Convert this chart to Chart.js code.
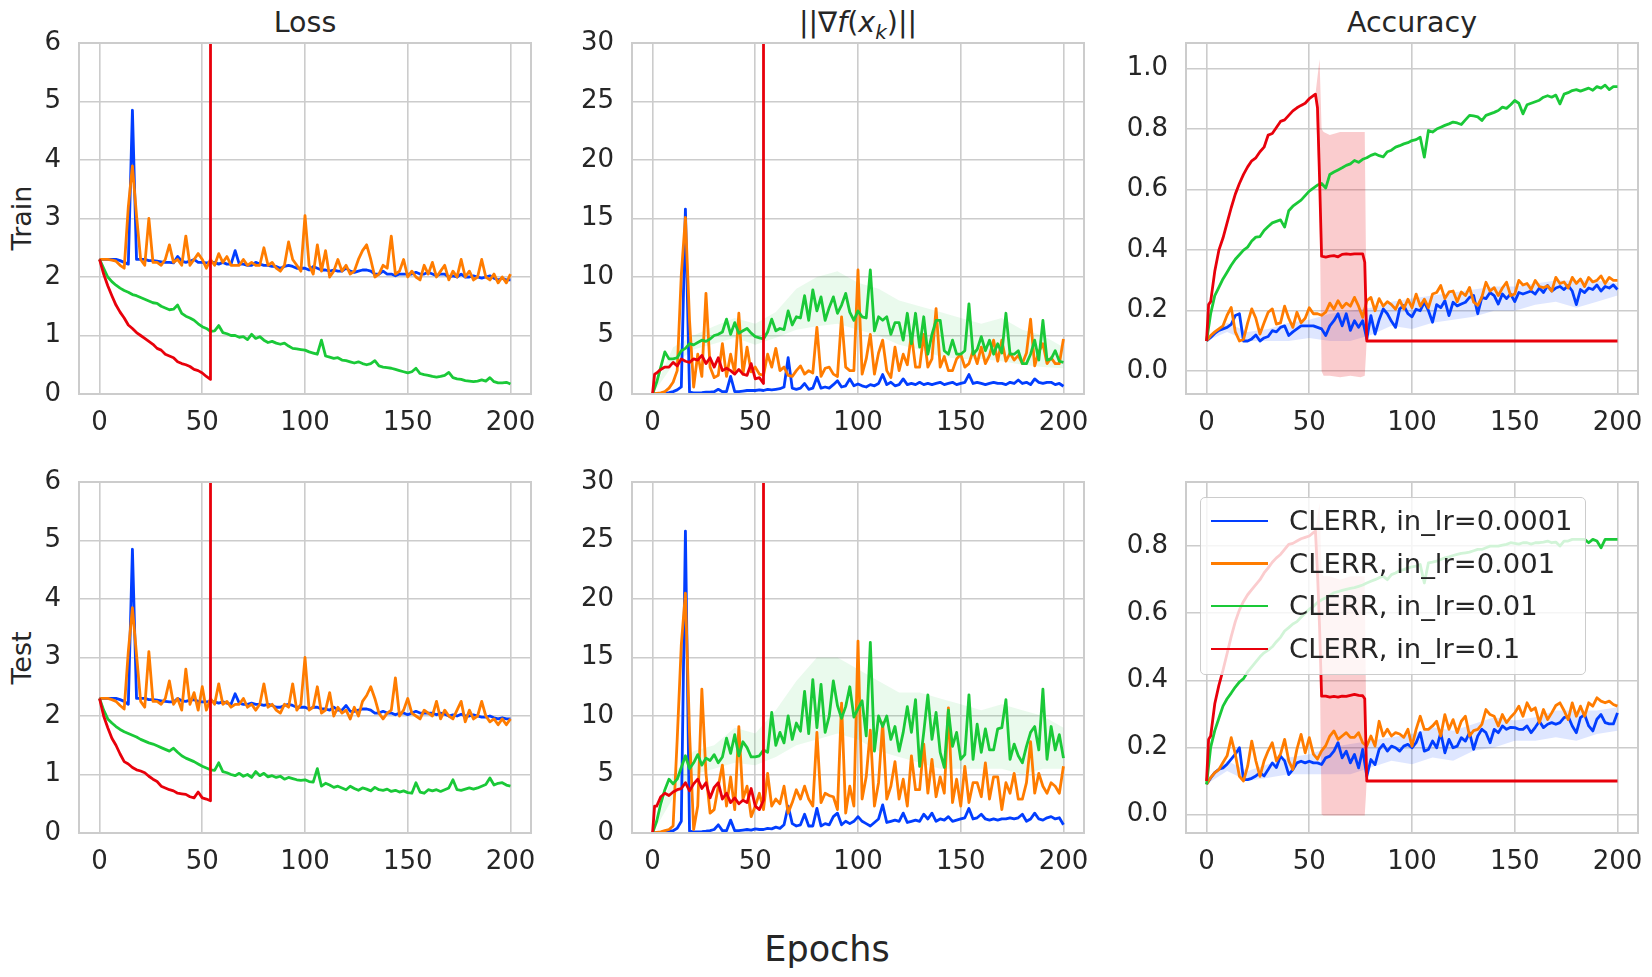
<!DOCTYPE html>
<html>
<head>
<meta charset="utf-8">
<script src="https://cdn.jsdelivr.net/npm/chart.js@4.4.0/dist/chart.umd.min.js"></script>
<style>
  body { margin: 0; background: #fff; width: 1652px; height: 977px; position: relative; overflow: hidden;
         font-family: "DejaVu Sans", sans-serif; color: #262626; }
  canvas.panel { position: absolute; }
  .txt { position: absolute; line-height: 1; white-space: nowrap; }
  .title { font-size: 28.5px; transform: translateX(-50%); }
  .rowlabel { font-size: 27px; transform: translate(-50%, -50%) rotate(-90deg); }
  #legend { position: absolute; left: 1200px; top: 497px; width: 384px; height: 176px;
            background: rgba(255,255,255,0.8); border: 1px solid #cccccc; border-radius: 5px; }
  #legend .handle { position: absolute; left: 10px; width: 57px; height: 2.8px; }
  #legend .label { position: absolute; left: 88px; font-size: 27.4px; line-height: 1; white-space: nowrap; }
</style>
</head>
<body>
<div class="txt title" id="t0" style="top:9px">Loss</div>
<div class="txt title" id="t1" style="top:9px">||∇<i>f</i>(<i>x</i><sub style="font-size:0.7em"><i>k</i></sub>)||</div>
<div class="txt title" id="t2" style="top:9px">Accuracy</div>
<div class="txt rowlabel" style="left:21px; top:218px">Train</div>
<div class="txt rowlabel" style="left:21px; top:658px">Test</div>
<div class="txt" style="left:827px; top:932px; font-size:35px; transform:translateX(-50%)">Epochs</div>

<script>
// colours (seaborn "bright")
const BLUE = '#023eff', ORANGE = '#ff7c00', GREEN = '#1ac938', RED = '#e8000b';

// ---- x values ----
const epochs = [
  0, 2, 4, 6, 8, 10, 12, 14, 16, 18, 20, 22, 24, 26, 28, 30, 32, 34, 36, 38,
  40, 42, 44, 46, 48, 50, 52, 54, 56, 58, 60, 62, 64, 66, 68, 70, 72, 74, 76, 78,
  80, 82, 84, 86, 88, 90, 92, 94, 96, 98, 100, 102, 104, 106, 108, 110, 112, 114, 116, 118,
  120, 122, 124, 126, 128, 130, 132, 134, 136, 138, 140, 142, 144, 146, 148, 150, 152, 154, 156, 158,
  160, 162, 164, 166, 168, 170, 172, 174, 176, 178, 180, 182, 184, 186, 188, 190, 192, 194, 196, 198, 200
];
const redLossEpochs = [0, 2, 4, 6, 8, 10, 12, 14, 16, 18, 20, 22, 24, 26, 28, 30, 32, 34, 36, 38,
  40, 42, 44, 46, 48, 50, 52, 54, 55];
const redGradEpochs = [0, 1, 2, 4, 6, 8, 10, 12, 14, 16, 18, 20, 22, 24, 26, 28, 30, 32, 34, 36, 38,
  40, 42, 44, 46, 48, 50, 52, 54, 55];
const redAccEpochs = [0, 1, 2, 4, 6, 8, 10, 12, 14, 16, 18, 20, 22, 24, 26, 28, 30, 32, 34, 36, 38,
  40, 42, 44, 46, 48, 50, 52, 53, 54, 55, 56, 58, 60, 62, 64, 66, 68, 70, 72, 74, 76, 77, 78, 200];
const redBandEpochs = [53, 55, 56, 57, 60, 65, 70, 75, 77, 78];
const bandEpochs = [0, 10, 20, 30, 40, 50, 60, 70, 80, 90, 100, 110, 120, 130, 140, 150, 160, 170, 180, 190, 200];

// ---- Train loss ----
const trainLossBlue = [
  2.30, 2.30, 2.30, 2.30, 2.30, 2.28, 2.25, 2.22, 4.85, 2.30,
  2.30, 2.30, 2.28, 2.28, 2.27, 2.26, 2.25, 2.25, 2.24, 2.35,
  2.27, 2.25, 2.27, 2.30, 2.25, 2.25, 2.24, 2.25, 2.25, 2.22,
  2.25, 2.22, 2.22, 2.45, 2.22, 2.22, 2.20, 2.20, 2.25, 2.22,
  2.20, 2.20, 2.18, 2.18, 2.15, 2.18, 2.20, 2.18, 2.15, 2.15,
  2.15, 2.12, 2.18, 2.15, 2.12, 2.12, 2.10, 2.12, 2.10, 2.10,
  2.15, 2.10, 2.08, 2.10, 2.12, 2.12, 2.10, 2.05, 2.05, 2.10,
  2.05, 2.05, 2.02, 2.05, 2.05, 2.05, 2.05, 2.08, 2.05, 2.05,
  2.08, 2.05, 2.02, 2.05, 2.05, 2.00, 2.02, 2.00, 2.05, 2.00,
  2.00, 2.02, 2.00, 1.98, 2.00, 2.02, 1.98, 1.95, 1.98, 1.95,
  1.95
];
const trainLossOrange = [
  2.30, 2.30, 2.30, 2.29, 2.27, 2.20, 2.15, 3.20, 3.90, 3.05,
  2.30, 2.20, 3.00, 2.25, 2.25, 2.20, 2.30, 2.55, 2.25, 2.30,
  2.20, 2.70, 2.20, 2.30, 2.40, 2.30, 2.15, 2.30, 2.20, 2.40,
  2.25, 2.35, 2.20, 2.20, 2.20, 2.30, 2.20, 2.25, 2.20, 2.20,
  2.50, 2.20, 2.25, 2.15, 2.10, 2.20, 2.60, 2.30, 2.20, 2.10,
  3.05, 2.20, 2.05, 2.55, 2.10, 2.45, 2.00, 2.10, 2.30, 2.10,
  2.20, 2.05, 2.10, 2.30, 2.45, 2.55, 2.30, 2.00, 2.05, 2.20,
  2.15, 2.70, 2.05, 2.10, 2.30, 2.00, 2.10, 2.00, 1.95, 2.20,
  2.05, 2.25, 2.00, 2.10, 2.20, 1.95, 2.10, 2.00, 2.30, 2.00,
  2.10, 1.95, 2.00, 2.30, 2.00, 1.95, 2.05, 1.90, 2.00, 1.90,
  2.05
];
const trainLossGreen = [
  2.30, 2.15, 2.00, 1.92, 1.86, 1.81, 1.77, 1.74, 1.70, 1.68,
  1.65, 1.62, 1.59, 1.56, 1.55, 1.50, 1.47, 1.44, 1.45, 1.52,
  1.38, 1.33, 1.30, 1.26, 1.20, 1.15, 1.12, 1.07, 1.08, 1.17,
  1.05, 1.03, 1.00, 1.00, 0.97, 0.98, 0.93, 1.02, 0.95, 0.98,
  0.92, 0.88, 0.90, 0.87, 0.85, 0.87, 0.82, 0.78, 0.77, 0.76,
  0.75, 0.72, 0.70, 0.68, 0.92, 0.65, 0.63, 0.61, 0.62, 0.58,
  0.57, 0.55, 0.53, 0.55, 0.52, 0.50, 0.52, 0.57, 0.48, 0.46,
  0.45, 0.44, 0.42, 0.40, 0.38, 0.36, 0.38, 0.44, 0.35, 0.33,
  0.32, 0.30, 0.29, 0.30, 0.32, 0.37, 0.28, 0.26, 0.25, 0.23,
  0.22, 0.21, 0.22, 0.24, 0.22, 0.28, 0.21, 0.19, 0.19, 0.20,
  0.17
];
const trainLossRed = [
  2.30, 2.05, 1.85, 1.68, 1.52, 1.40, 1.30, 1.18, 1.12, 1.05,
  1.00, 0.95, 0.90, 0.85, 0.78, 0.75, 0.68, 0.65, 0.62, 0.55,
  0.52, 0.50, 0.47, 0.42, 0.40, 0.36, 0.30, 0.25, 1000
];

// ---- Test loss ----
const testLossBlue = [
  2.30, 2.30, 2.30, 2.30, 2.30, 2.28, 2.25, 2.20, 4.85, 2.30,
  2.30, 2.30, 2.28, 2.28, 2.27, 2.26, 2.25, 2.24, 2.24, 2.30,
  2.26, 2.25, 2.27, 2.28, 2.25, 2.24, 2.24, 2.25, 2.24, 2.22,
  2.24, 2.22, 2.20, 2.38, 2.22, 2.20, 2.20, 2.22, 2.20, 2.20,
  2.18, 2.20, 2.18, 2.15, 2.15, 2.18, 2.20, 2.18, 2.15, 2.15,
  2.15, 2.12, 2.15, 2.15, 2.12, 2.12, 2.10, 2.15, 2.10, 2.10,
  2.18, 2.08, 2.08, 2.10, 2.12, 2.12, 2.10, 2.05, 2.05, 2.08,
  2.05, 2.05, 2.02, 2.05, 2.05, 2.02, 2.05, 2.08, 2.05, 2.05,
  2.05, 2.05, 2.02, 2.05, 2.03, 2.00, 2.02, 2.00, 2.03, 2.00,
  2.00, 2.02, 2.00, 1.98, 1.98, 2.00, 1.97, 1.95, 1.97, 1.95,
  1.95
];
const testLossOrange = [
  2.30, 2.30, 2.30, 2.28, 2.25, 2.18, 2.12, 3.10, 3.85, 3.05,
  2.25, 2.15, 3.10, 2.25, 2.25, 2.20, 2.30, 2.60, 2.20, 2.30,
  2.10, 2.80, 2.20, 2.40, 2.10, 2.50, 2.10, 2.30, 2.20, 2.55,
  2.20, 2.25, 2.15, 2.20, 2.20, 2.30, 2.15, 2.20, 2.10, 2.20,
  2.55, 2.15, 2.20, 2.10, 2.05, 2.20, 2.15, 2.55, 2.10, 2.20,
  3.00, 2.10, 2.15, 2.50, 2.05, 2.10, 2.40, 2.00, 2.15, 2.05,
  2.10, 1.95, 2.15, 2.00, 2.25, 2.35, 2.50, 2.30, 2.05, 1.95,
  2.05, 2.10, 2.65, 2.00, 2.10, 2.30, 2.05, 2.00, 1.95, 2.10,
  2.05, 2.00, 2.25, 1.95, 2.10, 2.00, 1.95, 2.10, 2.25, 1.90,
  2.10, 1.95, 2.00, 2.25, 2.00, 1.90, 1.95, 1.85, 1.95, 1.85,
  1.95
];
const testLossGreen = [
  2.30, 2.10, 1.95, 1.88, 1.82, 1.77, 1.73, 1.70, 1.67, 1.64,
  1.60, 1.57, 1.54, 1.52, 1.49, 1.46, 1.43, 1.40, 1.45, 1.38,
  1.32, 1.28, 1.25, 1.22, 1.18, 1.14, 1.11, 1.08, 1.07, 1.20,
  1.05, 1.03, 1.00, 0.98, 1.02, 0.97, 1.00, 0.95, 1.05, 0.98,
  1.02, 0.96, 0.98, 0.95, 0.97, 0.92, 0.95, 0.93, 0.91, 0.90,
  0.91, 0.88, 0.87, 1.10, 0.80, 0.85, 0.82, 0.78, 0.80, 0.77,
  0.74, 0.80, 0.76, 0.73, 0.77, 0.75, 0.72, 0.78, 0.74, 0.73,
  0.75, 0.71, 0.73, 0.70, 0.72, 0.69, 0.68, 0.86, 0.70, 0.68,
  0.74, 0.72, 0.74, 0.71, 0.74, 0.77, 0.91, 0.74, 0.73, 0.75,
  0.77, 0.75, 0.77, 0.80, 0.83, 0.94, 0.82, 0.85, 0.86, 0.82,
  0.80
];
const testLossRed = [
  2.30, 2.00, 1.80, 1.62, 1.50, 1.35, 1.22, 1.18, 1.12, 1.08,
  1.06, 1.03, 0.97, 0.92, 0.88, 0.80, 0.77, 0.74, 0.72, 0.68,
  0.67, 0.66, 0.62, 0.60, 0.70, 0.60, 0.58, 0.55, 1000
];

// ---- Train gradient norm ----
const trainGradBlue = [
  0.00, 0.02, 0.05, 0.08, 0.12, 0.20, 0.35, 0.60, 15.8, 0.15,
  0.10, 0.10, 0.12, 0.15, 0.15, 0.20, 0.40, 0.20, 0.20, 1.50,
  0.20, 0.20, 0.25, 0.30, 0.30, 0.30, 0.35, 0.30, 0.40, 0.35,
  0.40, 0.45, 0.60, 3.10, 0.50, 0.40, 0.50, 0.90, 0.40, 0.50,
  1.43, 0.50, 0.60, 0.50, 0.80, 1.14, 0.60, 0.70, 1.29, 0.70,
  0.86, 0.70, 0.60, 0.80, 0.70, 0.90, 1.66, 0.80, 1.00, 0.70,
  0.80, 1.29, 0.80, 0.90, 0.80, 1.00, 0.80, 0.90, 0.80, 0.90,
  1.00, 0.80, 0.90, 1.00, 0.80, 0.90, 1.00, 1.66, 0.90, 1.00,
  0.90, 0.80, 0.90, 1.00, 0.90, 0.90, 0.80, 1.00, 0.90, 1.20,
  0.90, 1.00, 0.80, 1.29, 1.00, 0.90, 1.00, 1.00, 0.80, 0.90,
  0.66
];
const trainGradOrange = [
  0.00, 0.05, 0.10, 0.20, 0.50, 1.00, 2.00, 10.2, 15.1, 6.30,
  0.60, 3.40, 1.50, 8.60, 2.30, 1.40, 1.60, 4.30, 1.50, 3.40,
  1.80, 6.90, 1.70, 4.00, 1.90, 2.30, 1.70, 1.60, 3.40, 2.30,
  3.90, 2.00, 2.30, 1.60, 1.50, 2.00, 2.40, 1.70, 2.00, 1.80,
  5.70, 1.50, 2.20, 2.30, 1.70, 1.50, 6.60, 2.30, 2.00, 2.00,
  10.6, 1.70, 3.00, 5.10, 1.70, 3.50, 4.60, 2.00, 1.40, 4.00,
  2.00, 3.40, 2.50, 5.10, 2.30, 2.30, 5.10, 2.30, 3.00, 7.30,
  2.30, 3.20, 2.00, 2.00, 3.00, 3.40, 2.30, 2.60, 3.70, 2.60,
  4.00, 2.60, 3.30, 4.60, 2.80, 4.60, 2.80, 3.50, 2.90, 3.30,
  2.60, 3.50, 6.40, 2.40, 3.60, 4.30, 2.60, 3.10, 2.60, 2.60,
  4.70
];
const trainGradGreen = [
  0.00, 1.00, 2.30, 3.60, 3.00, 3.00, 3.10, 3.70, 3.90, 4.30,
  4.20, 4.40, 4.60, 4.50, 4.70, 5.00, 5.10, 5.30, 6.40, 5.10,
  6.10, 5.20, 5.40, 5.60, 5.20, 4.90, 4.80, 4.70, 5.30, 6.40,
  5.40, 5.60, 5.50, 7.10, 5.90, 6.60, 6.50, 8.40, 6.30, 8.90,
  7.10, 8.30, 6.30, 7.40, 8.30, 6.90, 7.60, 8.60, 7.00, 6.30,
  7.10, 6.60, 6.50, 10.6, 5.40, 6.60, 6.30, 6.60, 5.10, 6.10,
  6.10, 4.60, 6.90, 4.30, 6.90, 4.00, 6.60, 3.40, 5.10, 6.30,
  6.30, 3.70, 3.40, 4.60, 3.40, 3.40, 3.70, 7.70, 3.40, 3.80,
  4.90, 3.70, 4.60, 3.40, 4.30, 3.50, 6.90, 3.40, 3.40, 3.70,
  2.60, 2.60, 3.40, 4.60, 2.90, 6.30, 2.90, 3.00, 3.70, 2.80,
  2.70
];
const trainGradGreenHi = [0.0, 4.0, 5.0, 5.8, 6.5, 6.0, 7.0, 9.0, 10.0, 10.5, 9.5,
  9.0, 8.0, 7.5, 7.0, 6.5, 6.0, 6.5, 5.5, 5.0, 4.0];
const trainGradGreenLo = [0.0, 2.5, 3.8, 4.3, 4.8, 4.2, 4.8, 5.5, 5.8, 6.0, 5.5,
  5.0, 4.2, 3.8, 3.2, 3.0, 3.0, 2.8, 2.5, 2.3, 2.2];
const trainGradRed = [
  0.0, 1.7, 1.8, 2.1, 2.3, 2.3, 2.7, 2.4, 3.0, 2.8, 2.7,
  3.0, 2.9, 3.3, 2.6, 3.1, 2.3, 3.1, 2.0, 2.2, 2.0,
  1.7, 2.1, 1.7, 1.6, 2.6, 1.3, 1.4, 0.9, 5000
];

// ---- Test gradient norm ----
const testGradBlue = [
  0.00, 0.02, 0.05, 0.10, 0.15, 0.20, 0.40, 1.00, 25.8, 0.15,
  0.10, 0.10, 0.12, 0.15, 0.20, 0.30, 0.70, 0.20, 0.20, 1.10,
  0.20, 0.20, 0.25, 0.30, 0.25, 0.35, 0.30, 0.30, 0.40, 0.35,
  0.50, 0.40, 0.70, 2.30, 0.80, 0.60, 0.70, 1.60, 0.60, 0.60,
  2.10, 0.60, 0.80, 0.70, 1.40, 1.70, 0.70, 1.00, 0.80, 1.00,
  1.40, 1.00, 0.80, 0.60, 0.90, 1.20, 2.40, 0.90, 1.00, 1.10,
  1.00, 1.70, 0.90, 1.00, 1.10, 1.00, 1.60, 1.20, 1.70, 1.00,
  1.20, 1.10, 1.40, 1.00, 1.10, 1.20, 1.30, 2.10, 1.20, 1.30,
  1.60, 1.20, 1.10, 1.20, 1.10, 1.20, 1.20, 1.30, 1.20, 1.30,
  1.60, 1.00, 1.20, 1.70, 1.20, 1.10, 1.30, 1.40, 1.20, 1.30,
  0.70
];
const testGradOrange = [
  0.00, 0.05, 0.10, 0.20, 0.30, 0.60, 8.00, 16.1, 20.5, 8.60,
  0.30, 2.30, 12.3, 5.10, 1.70, 2.00, 4.00, 5.80, 2.30, 4.80,
  2.00, 9.10, 2.90, 4.00, 1.40, 2.30, 3.40, 2.00, 5.10, 2.30,
  2.90, 2.50, 4.00, 1.70, 2.60, 3.70, 2.90, 4.00, 2.90, 2.30,
  8.60, 2.60, 3.40, 3.20, 3.10, 2.00, 11.1, 1.70, 4.00, 2.30,
  16.4, 2.90, 4.80, 8.80, 2.30, 4.30, 9.40, 2.90, 4.00, 6.10,
  2.90, 4.60, 2.30, 6.60, 3.70, 3.70, 7.60, 3.40, 6.30, 3.10,
  4.80, 3.40, 10.7, 2.60, 4.60, 2.30, 5.70, 2.60, 4.30, 4.30,
  3.10, 6.00, 2.90, 4.80, 4.80, 2.00, 4.30, 3.40, 5.10, 2.90,
  2.90, 4.30, 7.80, 3.40, 5.10, 4.00, 3.40, 4.30, 4.00, 3.40,
  5.70
];
const testGradGreen = [
  0.00, 1.00, 2.50, 3.70, 4.60, 4.20, 4.60, 5.60, 6.60, 5.50,
  6.00, 6.70, 5.80, 6.40, 6.20, 6.70, 6.00, 6.50, 8.10, 6.80,
  8.40, 6.60, 7.80, 7.30, 6.50, 6.50, 6.60, 7.10, 6.90, 10.3,
  7.50, 8.60, 7.70, 10.0, 8.00, 9.40, 8.70, 12.1, 8.50, 13.1,
  9.00, 12.7, 8.60, 10.0, 13.0, 10.9, 9.80, 10.8, 12.5, 9.90,
  10.6, 11.3, 8.30, 16.3, 7.00, 10.0, 9.10, 10.0, 8.00, 9.10,
  7.00, 8.60, 10.8, 8.60, 11.4, 5.70, 8.60, 11.8, 8.00, 10.3,
  6.90, 5.60, 10.5, 7.40, 8.60, 6.30, 6.70, 11.8, 6.30, 9.30,
  6.90, 8.90, 7.10, 7.10, 8.90, 9.00, 11.4, 6.30, 7.60, 6.60,
  6.00, 7.40, 8.60, 9.10, 7.10, 12.3, 6.30, 9.10, 7.10, 8.40,
  6.40
];
const testGradGreenHi = [0.0, 5.0, 7.0, 7.5, 9.0, 8.5, 10.5, 13.0, 15.0, 15.0, 14.0,
  13.0, 12.0, 12.0, 11.5, 11.0, 10.5, 11.0, 10.5, 10.0, 9.0];
const testGradGreenLo = [0.0, 3.0, 5.0, 5.5, 6.0, 5.8, 6.5, 7.5, 8.0, 8.5, 8.0,
  7.0, 6.5, 6.0, 5.5, 5.5, 5.5, 5.5, 5.0, 5.5, 5.5];
const testGradRed = [
  0.0, 2.3, 2.3, 3.1, 3.4, 3.2, 3.5, 3.7, 3.8, 4.3, 3.6,
  4.2, 4.6, 3.8, 4.3, 3.0, 3.9, 4.3, 2.9, 3.4, 2.6,
  3.0, 2.5, 2.8, 2.6, 3.8, 2.3, 2.0, 2.8, 5000
];

// ---- Train accuracy ----
const trainAccBlue = [
  0.100, 0.112, 0.125, 0.135, 0.140, 0.145, 0.155, 0.184, 0.190, 0.100,
  0.100, 0.107, 0.120, 0.100, 0.110, 0.115, 0.134, 0.130, 0.145, 0.150,
  0.118, 0.130, 0.140, 0.150, 0.150, 0.150, 0.150, 0.145, 0.140, 0.118,
  0.150, 0.167, 0.190, 0.150, 0.190, 0.135, 0.167, 0.145, 0.167, 0.107,
  0.184, 0.123, 0.170, 0.206, 0.190, 0.165, 0.145, 0.206, 0.217, 0.190,
  0.180, 0.205, 0.200, 0.228, 0.200, 0.162, 0.220, 0.210, 0.233, 0.184,
  0.228, 0.216, 0.222, 0.228, 0.244, 0.250, 0.190, 0.244, 0.240, 0.260,
  0.250, 0.222, 0.255, 0.240, 0.255, 0.230, 0.260, 0.255, 0.260, 0.265,
  0.255, 0.275, 0.260, 0.283, 0.265, 0.275, 0.280, 0.270, 0.283, 0.265,
  0.220, 0.270, 0.260, 0.275, 0.270, 0.285, 0.265, 0.280, 0.275, 0.285,
  0.270
];
const trainAccBlueHi = [0.10, 0.16, 0.13, 0.14, 0.16, 0.17, 0.19, 0.20, 0.21, 0.23, 0.24,
  0.25, 0.26, 0.27, 0.28, 0.28, 0.29, 0.30, 0.30, 0.30, 0.29];
const trainAccBlueLo = [0.10, 0.13, 0.10, 0.10, 0.10, 0.11, 0.10, 0.10, 0.12, 0.15, 0.14,
  0.16, 0.17, 0.18, 0.20, 0.20, 0.22, 0.23, 0.21, 0.23, 0.25];
const trainAccOrange = [
  0.100, 0.118, 0.130, 0.140, 0.150, 0.185, 0.211, 0.130, 0.100, 0.105,
  0.160, 0.206, 0.175, 0.123, 0.160, 0.195, 0.206, 0.156, 0.160, 0.215,
  0.175, 0.145, 0.195, 0.160, 0.175, 0.210, 0.190, 0.190, 0.185, 0.195,
  0.225, 0.205, 0.233, 0.210, 0.225, 0.215, 0.244, 0.215, 0.178, 0.233,
  0.244, 0.200, 0.240, 0.215, 0.230, 0.220, 0.205, 0.235, 0.206, 0.238,
  0.210, 0.255, 0.215, 0.238, 0.210, 0.255, 0.260, 0.283, 0.240, 0.262,
  0.265, 0.230, 0.262, 0.250, 0.277, 0.228, 0.218, 0.245, 0.294, 0.265,
  0.276, 0.250, 0.275, 0.294, 0.250, 0.255, 0.300, 0.285, 0.290, 0.270,
  0.300, 0.280, 0.276, 0.282, 0.265, 0.310, 0.290, 0.295, 0.275, 0.310,
  0.290, 0.305, 0.280, 0.310, 0.295, 0.300, 0.315, 0.290, 0.310, 0.300,
  0.300
];
const trainAccGreen = [
  0.100, 0.190, 0.250, 0.277, 0.305, 0.327, 0.350, 0.370, 0.385, 0.400,
  0.410, 0.430, 0.443, 0.445, 0.465, 0.478, 0.490, 0.495, 0.500, 0.476,
  0.530, 0.545, 0.555, 0.565, 0.580, 0.595, 0.605, 0.615, 0.620, 0.605,
  0.650, 0.658, 0.665, 0.672, 0.680, 0.685, 0.696, 0.690, 0.700, 0.705,
  0.713, 0.718, 0.712, 0.708, 0.725, 0.730, 0.740, 0.745, 0.751, 0.755,
  0.762, 0.765, 0.773, 0.707, 0.795, 0.790, 0.800, 0.806, 0.812, 0.817,
  0.823, 0.820, 0.815, 0.830, 0.845, 0.843, 0.840, 0.828, 0.845, 0.850,
  0.855, 0.861, 0.872, 0.868, 0.880, 0.894, 0.885, 0.850, 0.880, 0.885,
  0.890, 0.895, 0.905, 0.910, 0.905, 0.912, 0.883, 0.915, 0.920, 0.927,
  0.930, 0.925, 0.930, 0.935, 0.928, 0.940, 0.935, 0.945, 0.930, 0.940,
  0.940
];
const trainAccRed = [
  0.100, 0.220, 0.230, 0.330, 0.400, 0.440, 0.490, 0.540, 0.585, 0.620, 0.650,
  0.675, 0.695, 0.705, 0.725, 0.740, 0.780, 0.785, 0.805, 0.825, 0.830,
  0.845, 0.860, 0.870, 0.878, 0.885, 0.900, 0.910, 0.915, 0.870, 0.640, 0.380,
  0.377, 0.380, 0.382, 0.378, 0.386, 0.388, 0.386, 0.388, 0.388, 0.388, 0.360, 0.100, 0.100
];
const trainAccRedHi = [0.915, 1.030, 0.800, 0.790, 0.780, 0.790, 0.790, 0.790, 0.790, 0.100];
const trainAccRedLo = [0.915, 0.550, 0.000, -0.015, -0.015, -0.020, -0.015, -0.020, -0.015, 0.100];

// ---- Test accuracy ----
const testAccBlue = [
  0.090, 0.109, 0.125, 0.135, 0.139, 0.150, 0.165, 0.180, 0.199, 0.104,
  0.104, 0.108, 0.115, 0.124, 0.115, 0.134, 0.154, 0.140, 0.174, 0.160,
  0.119, 0.134, 0.154, 0.159, 0.154, 0.159, 0.154, 0.154, 0.149, 0.169,
  0.174, 0.189, 0.214, 0.169, 0.189, 0.154, 0.179, 0.139, 0.194, 0.114,
  0.164, 0.149, 0.194, 0.209, 0.189, 0.204, 0.199, 0.189, 0.204, 0.209,
  0.199, 0.214, 0.244, 0.189, 0.194, 0.219, 0.199, 0.244, 0.184, 0.224,
  0.199, 0.204, 0.229, 0.219, 0.244, 0.194, 0.234, 0.254, 0.244, 0.214,
  0.254, 0.244, 0.264, 0.254, 0.260, 0.259, 0.254, 0.254, 0.264, 0.244,
  0.260, 0.278, 0.259, 0.269, 0.274, 0.269, 0.274, 0.289, 0.293, 0.264,
  0.244, 0.289, 0.298, 0.264, 0.249, 0.284, 0.298, 0.274, 0.270, 0.270,
  0.303
];
const testAccBlueHi = [0.09, 0.16, 0.13, 0.15, 0.17, 0.18, 0.20, 0.21, 0.22, 0.23, 0.24,
  0.26, 0.25, 0.27, 0.29, 0.28, 0.29, 0.31, 0.31, 0.31, 0.32];
const testAccBlueLo = [0.09, 0.13, 0.10, 0.11, 0.12, 0.12, 0.12, 0.12, 0.14, 0.16, 0.15,
  0.17, 0.16, 0.19, 0.20, 0.22, 0.22, 0.23, 0.22, 0.24, 0.25];
const testAccOrange = [
  0.090, 0.110, 0.125, 0.134, 0.155, 0.175, 0.229, 0.180, 0.114, 0.100,
  0.144, 0.219, 0.160, 0.114, 0.160, 0.190, 0.214, 0.160, 0.180, 0.224,
  0.160, 0.134, 0.195, 0.239, 0.184, 0.229, 0.180, 0.165, 0.190, 0.205,
  0.234, 0.249, 0.224, 0.234, 0.244, 0.230, 0.230, 0.244, 0.214, 0.204,
  0.234, 0.204, 0.278, 0.234, 0.254, 0.234, 0.244, 0.240, 0.230, 0.254,
  0.204, 0.254, 0.293, 0.254, 0.254, 0.264, 0.278, 0.234, 0.298, 0.254,
  0.283, 0.244, 0.278, 0.293, 0.234, 0.250, 0.254, 0.269, 0.313, 0.298,
  0.293, 0.264, 0.298, 0.274, 0.290, 0.303, 0.323, 0.293, 0.333, 0.310,
  0.318, 0.274, 0.313, 0.283, 0.303, 0.325, 0.333, 0.310, 0.283, 0.333,
  0.293, 0.323, 0.293, 0.333, 0.323, 0.348, 0.338, 0.333, 0.338, 0.328,
  0.323
];
const testAccGreen = [
  0.090, 0.200, 0.250, 0.287, 0.323, 0.345, 0.362, 0.380, 0.395, 0.405,
  0.425, 0.440, 0.455, 0.470, 0.482, 0.490, 0.500, 0.515, 0.528, 0.547,
  0.557, 0.568, 0.575, 0.588, 0.600, 0.612, 0.620, 0.632, 0.640, 0.646,
  0.653, 0.661, 0.664, 0.668, 0.671, 0.674, 0.676, 0.680, 0.684, 0.690,
  0.695, 0.700, 0.706, 0.710, 0.700, 0.715, 0.720, 0.727, 0.730, 0.735,
  0.738, 0.740, 0.745, 0.690, 0.750, 0.752, 0.755, 0.760, 0.765, 0.768,
  0.772, 0.775, 0.778, 0.780, 0.782, 0.786, 0.790, 0.790, 0.795, 0.800,
  0.800, 0.800, 0.803, 0.805, 0.810, 0.808, 0.806, 0.810, 0.810, 0.806,
  0.810, 0.810, 0.812, 0.815, 0.810, 0.812, 0.800, 0.815, 0.815, 0.820,
  0.820, 0.820, 0.820, 0.810, 0.820, 0.815, 0.795, 0.820, 0.820, 0.820,
  0.820
];
const testAccRed = [
  0.100, 0.224, 0.234, 0.330, 0.385, 0.430, 0.480, 0.530, 0.575, 0.610, 0.635,
  0.655, 0.670, 0.685, 0.700, 0.720, 0.735, 0.752, 0.765, 0.775, 0.790,
  0.805, 0.808, 0.815, 0.822, 0.826, 0.830, 0.840, 0.845, 0.720, 0.560, 0.353,
  0.353, 0.350, 0.352, 0.350, 0.353, 0.352, 0.355, 0.358, 0.355, 0.354, 0.345, 0.100, 0.100
];
const testAccRedHi = [0.845, 0.930, 0.720, 0.710, 0.710, 0.700, 0.710, 0.710, 0.710, 0.100];
const testAccRedLo = [0.845, 0.500, 0.000, -0.003, -0.003, -0.003, -0.003, -0.003, -0.003, 0.100];

// ---- tick / axis settings ----
const epochTicks = { min: -10, max: 210, step: 50 };
const lossTicks = { min: 0, max: 6, step: 1 };
const gradTicks = { min: 0, max: 30, step: 5 };
const trainAccTicks = { min: -0.075, max: 1.084, step: 0.2 };
const testAccTicks = { min: -0.055, max: 0.991, step: 0.2 };

// ---- layout ----
const PLOT_W = 452, PLOT_H = 351;
const PAD_L = 75, PAD_T = 45, PAD_R = 45, PAD_B = 50;
const colLeft = [79, 632, 1186];
const rowTop = [43, 482];
const GRID = '#cccccc', TEXT = '#262626';

// place titles over column centres
['t0', 't1', 't2'].forEach((id, i) => {
    document.getElementById(id).style.left = (colLeft[i] + PLOT_W / 2) + 'px';
});

function pts(xs, ys) {
    return xs.map((x, i) => ({ x: x, y: ys[i] }));
}

function line(xs, ys, color, order) {
    return {
        data: pts(xs, ys),
        borderColor: color,
        borderWidth: 2.8,
        pointRadius: 0,
        fill: false,
        tension: 0,
        borderJoinStyle: 'round',
        order: order
    };
}

function band(xs, hi, lo, color) {
    return [
        { data: pts(xs, hi), borderWidth: 0, pointRadius: 0, fill: '+1', backgroundColor: color, order: 10 },
        { data: pts(xs, lo), borderWidth: 0, pointRadius: 0, fill: false, order: 10 }
    ];
}

const frame = {
    id: 'frame',
    afterDatasetsDraw(chart) {
        const a = chart.chartArea, c = chart.ctx;
        c.save();
        c.strokeStyle = GRID;
        c.lineWidth = 2;
        c.strokeRect(a.left, a.top, a.right - a.left, a.bottom - a.top);
        c.restore();
    }
};

function makePanel(col, row, datasets, yt, fmt) {
    const cv = document.createElement('canvas');
    cv.className = 'panel';
    const w = PLOT_W + PAD_L + PAD_R, h = PLOT_H + PAD_T + PAD_B;
    cv.width = w; cv.height = h;
    cv.style.width = w + 'px'; cv.style.height = h + 'px';
    cv.style.left = (colLeft[col] - PAD_L) + 'px';
    cv.style.top = (rowTop[row] - PAD_T) + 'px';
    document.body.appendChild(cv);

    const tickFont = { family: 'DejaVu Sans', size: 26 };
    return new Chart(cv.getContext('2d'), {
        type: 'line',
        data: { datasets: datasets },
        options: {
            responsive: false,
            animation: false,
            events: [],
            layout: { padding: { top: PAD_T, right: PAD_R, left: 0, bottom: 0 } },
            plugins: { legend: { display: false }, tooltip: { enabled: false } },
            scales: {
                x: {
                    type: 'linear',
                    min: epochTicks.min, max: epochTicks.max,
                    ticks: { stepSize: epochTicks.step, includeBounds: false, font: tickFont,
                             color: TEXT, padding: 14, maxRotation: 0 },
                    grid: { color: GRID, lineWidth: 1.6, drawTicks: false },
                    border: { display: true, color: GRID, width: 2 },
                    afterFit: (s) => { s.height = PAD_B; }
                },
                y: {
                    type: 'linear',
                    min: yt.min, max: yt.max,
                    ticks: { stepSize: yt.step, includeBounds: false, font: tickFont, color: TEXT,
                             padding: 18, callback: fmt || ((v) => v) },
                    grid: { color: GRID, lineWidth: 1.6, drawTicks: false },
                    border: { display: true, color: GRID, width: 2 },
                    afterFit: (s) => { s.width = PAD_L; }
                }
            }
        },
        plugins: [frame]
    });
}

const acc = (v) => v.toFixed(1);
const greenHaze = 'rgba(26,201,56,0.09)';
const blueHaze = 'rgba(2,62,255,0.13)';
const redHaze = 'rgba(232,0,11,0.2)';

// Train row
makePanel(0, 0, [
    line(redLossEpochs, trainLossRed, RED, 1),
    line(epochs, trainLossGreen, GREEN, 2),
    line(epochs, trainLossOrange, ORANGE, 3),
    line(epochs, trainLossBlue, BLUE, 4)
], lossTicks);

makePanel(1, 0, [
    ...band(bandEpochs, trainGradGreenHi, trainGradGreenLo, greenHaze),
    line(redGradEpochs, trainGradRed, RED, 1),
    line(epochs, trainGradGreen, GREEN, 2),
    line(epochs, trainGradOrange, ORANGE, 3),
    line(epochs, trainGradBlue, BLUE, 4)
], gradTicks);

makePanel(2, 0, [
    ...band(redBandEpochs, trainAccRedHi, trainAccRedLo, redHaze),
    ...band(bandEpochs, trainAccBlueHi, trainAccBlueLo, blueHaze),
    line(redAccEpochs, trainAccRed, RED, 1),
    line(epochs, trainAccGreen, GREEN, 2),
    line(epochs, trainAccOrange, ORANGE, 3),
    line(epochs, trainAccBlue, BLUE, 4)
], trainAccTicks, acc);

// Test row
makePanel(0, 1, [
    line(redLossEpochs, testLossRed, RED, 1),
    line(epochs, testLossGreen, GREEN, 2),
    line(epochs, testLossOrange, ORANGE, 3),
    line(epochs, testLossBlue, BLUE, 4)
], lossTicks);

makePanel(1, 1, [
    ...band(bandEpochs, testGradGreenHi, testGradGreenLo, greenHaze),
    line(redGradEpochs, testGradRed, RED, 1),
    line(epochs, testGradGreen, GREEN, 2),
    line(epochs, testGradOrange, ORANGE, 3),
    line(epochs, testGradBlue, BLUE, 4)
], gradTicks);

makePanel(2, 1, [
    ...band(redBandEpochs, testAccRedHi, testAccRedLo, redHaze),
    ...band(bandEpochs, testAccBlueHi, testAccBlueLo, blueHaze),
    line(redAccEpochs, testAccRed, RED, 1),
    line(epochs, testAccGreen, GREEN, 2),
    line(epochs, testAccOrange, ORANGE, 3),
    line(epochs, testAccBlue, BLUE, 4)
], testAccTicks, acc);
</script>

<div id="legend">
  <div class="handle" style="top:21.5px; background:#023eff"></div>
  <div class="label" style="top:9px">CLERR, in_lr=0.0001</div>
  <div class="handle" style="top:64px; background:#ff7c00"></div>
  <div class="label" style="top:52px">CLERR, in_lr=0.001</div>
  <div class="handle" style="top:106.5px; background:#1ac938"></div>
  <div class="label" style="top:94px">CLERR, in_lr=0.01</div>
  <div class="handle" style="top:149.5px; background:#e8000b"></div>
  <div class="label" style="top:137px">CLERR, in_lr=0.1</div>
</div>
</body>
</html>
